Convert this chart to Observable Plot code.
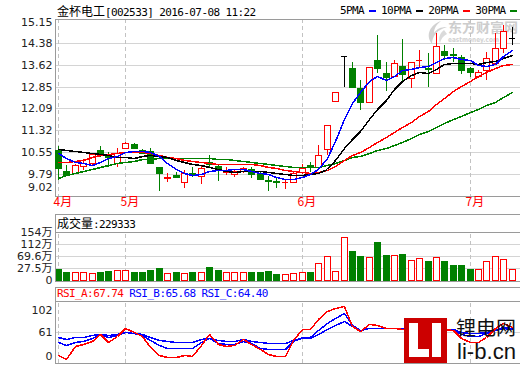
<!DOCTYPE html>
<html lang="zh">
<head>
<meta charset="utf-8">
<title>金杯电工 002533</title>
<script src="https://cdn.jsdelivr.net/npm/d3@7"></script>
<script src="https://cdn.jsdelivr.net/npm/@observablehq/plot@0.6"></script>
<style>
  html, body { margin: 0; padding: 0; background: #fff; }
  #chart { position: relative; width: 520px; height: 365px; overflow: hidden; background: #fff; }
  #chart > * { position: absolute; }
  .mono { font-family: "DejaVu Sans Mono", monospace; font-size: 11px; letter-spacing: -0.6px; line-height: 12px; white-space: nowrap; color: #000; }
  .cjk { font-family: "Noto Sans CJK SC", sans-serif; font-size: 12px; letter-spacing: 0; }
  .dash { display: inline-block; width: 7px; height: 2px; vertical-align: middle; margin: 0 5px 0 5px; }
</style>
</head>
<body>
<div id="chart"></div>
<script>
// 金杯电工 [002533] daily K-line with moving averages, volume and RSI

// Month starts (candle index) and their labels
const monthIndex = [0, 8, 29, 49];
const monthLabels = ["4月", "5月", "6月", "7月"];

// Daily prices
const open  = [10.63, 9.90, 9.82, 10.07, 10.17, 10.63, 10.48, 10.17, 10.69, 10.84,
               10.63, 10.61, 10.03, 9.66, 9.76, 9.52, 9.84, 9.72, 10.20, 10.07,
               9.86, 9.79, 9.91, 9.96, 9.84, 9.58, 9.54, 9.50, 9.52, 9.85,
               10.09, 10.05, 10.66, 12.35, 13.93, 13.49, 12.81, 12.32, 13.78, 13.32,
               13.22, 13.57, 13.14, 13.77, 13.50, 13.32, 14.10, 13.98, 13.90, 13.51,
               13.22, 13.43, 13.67, 14.19, 14.57];
const high  = [10.77, 10.11, 10.13, 10.30, 10.53, 10.77, 10.57, 10.69, 10.90, 10.88,
               10.65, 10.69, 10.03, 9.82, 9.86, 9.93, 10.03, 10.07, 10.46, 10.14,
               10.05, 9.96, 10.05, 10.03, 9.88, 9.72, 9.68, 9.58, 9.86, 10.14,
               10.22, 10.80, 11.51, 12.66, 13.93, 13.72, 13.08, 13.55, 14.66, 13.70,
               13.78, 14.51, 13.72, 14.13, 14.02, 14.72, 14.31, 14.21, 13.96, 13.55,
               13.43, 14.05, 14.72, 15.01, 14.95];
const low   = [9.58, 9.72, 9.78, 9.93, 10.10, 10.40, 10.05, 10.05, 10.66, 10.66,
               10.50, 10.13, 9.21, 9.52, 9.66, 9.31, 9.67, 9.43, 10.00, 9.56,
               9.76, 9.68, 9.82, 9.64, 9.60, 9.21, 9.29, 9.26, 9.48, 9.79,
               9.87, 9.97, 10.45, 12.35, 12.85, 12.81, 12.02, 12.30, 13.32, 12.71,
               13.20, 13.02, 12.79, 13.49, 12.85, 13.30, 13.78, 13.72, 13.28, 13.20,
               13.16, 13.08, 13.61, 14.02, 14.31];
const close = [10.01, 9.77, 10.10, 10.17, 10.49, 10.54, 10.38, 10.52, 10.87, 10.69,
               10.52, 10.17, 9.82, 9.68, 9.68, 9.82, 9.76, 9.99, 10.15, 9.93,
               9.88, 9.91, 10.01, 9.79, 9.62, 9.55, 9.52, 9.52, 9.82, 9.99,
               10.03, 10.46, 11.51, 12.66, 13.93, 12.83, 12.32, 13.53, 13.49, 13.18,
               13.67, 13.29, 13.70, 13.80, 13.47, 14.28, 13.96, 13.95, 13.43, 13.35,
               13.35, 13.84, 14.19, 14.80, 14.57];

// Volume, in 万 (10,000 shares)
const volume = [25.6, 15.1, 12.7, 12.7, 10.6, 15.1, 18.6, 19.7, 22.1, 15.1,
                15.1, 22.1, 29.1, 10.6, 12.7, 10.6, 12.7, 15.1, 32.6, 19.7,
                12.7, 12.7, 15.1, 12.7, 12.7, 16.2, 8.1, 8.1, 11.6, 15.1,
                15.1, 46.6, 71.1, 18.6, 137.6, 88.6, 71.1, 67.6, 120.1, 74.6,
                73.6, 78.1, 56.1, 63.1, 53.6, 66.6, 53.6, 39.6, 39.6, 25.6,
                25.6, 52.6, 70.1, 59.6, 22.9333];

// Moving averages of the close
const ma5  = [10.53, 10.34, 10.21, 10.16, 10.11, 10.21, 10.34, 10.42, 10.56, 10.60,
              10.60, 10.55, 10.41, 10.18, 9.97, 9.83, 9.75, 9.79, 9.88, 9.93,
              9.94, 9.97, 9.98, 9.90, 9.84, 9.78, 9.70, 9.60, 9.61, 9.68,
              9.78, 9.96, 10.36, 10.93, 11.72, 12.28, 12.65, 13.05, 13.22, 13.07,
              13.24, 13.43, 13.47, 13.53, 13.59, 13.71, 13.84, 13.89, 13.82, 13.79,
              13.61, 13.58, 13.63, 13.91, 14.15];
const ma10 = [10.68, 10.64, 10.60, 10.56, 10.52, 10.48, 10.44, 10.40, 10.37, 10.35,
              10.41, 10.45, 10.42, 10.37, 10.29, 10.22, 10.15, 10.10, 10.03, 9.95,
              9.89, 9.86, 9.88, 9.89, 9.89, 9.86, 9.84, 9.79, 9.76, 9.76,
              9.78, 9.83, 9.98, 10.27, 10.70, 11.03, 11.31, 11.71, 12.08, 12.39,
              12.76, 13.04, 13.26, 13.37, 13.33, 13.47, 13.64, 13.68, 13.67, 13.69,
              13.66, 13.71, 13.76, 13.86, 13.97];
const ma20 = [10.22, 10.22, 10.23, 10.28, 10.38, 10.45, 10.48, 10.53, 10.56, 10.57,
              10.57, 10.54, 10.47, 10.39, 10.34, 10.29, 10.25, 10.22, 10.19, 10.15,
              10.15, 10.15, 10.15, 10.13, 10.09, 10.04, 9.99, 9.94, 9.89, 9.86,
              9.83, 9.85, 9.93, 10.08, 10.29, 10.44, 10.57, 10.75, 10.92, 11.08,
              11.27, 11.44, 11.62, 11.82, 12.01, 12.25, 12.47, 12.69, 12.87, 13.04,
              13.21, 13.38, 13.51, 13.62, 13.65];
const ma30 = [9.66, 9.74, 9.82, 9.90, 9.97, 10.03, 10.10, 10.16, 10.21, 10.26,
              10.30, 10.33, 10.34, 10.35, 10.36, 10.36, 10.36, 10.36, 10.35, 10.33,
              10.30, 10.27, 10.24, 10.20, 10.17, 10.14, 10.10, 10.07, 10.04, 10.02,
              10.02, 10.05, 10.09, 10.18, 10.29, 10.37, 10.43, 10.53, 10.62, 10.70,
              10.81, 10.91, 11.04, 11.18, 11.30, 11.45, 11.59, 11.73, 11.83, 11.95,
              12.06, 12.20, 12.33, 12.50, 12.67];

// RSI (6, 12, 24)
const rsiA = [30.9, 25.2, 42.7, 45.3, 49.7, 58.0, 48.3, 55.8, 65.9, 60.6,
              55.8, 41.8, 30.5, 27.9, 27.9, 30.5, 29.0, 44.0, 58.0, 45.0,
              42.7, 44.0, 51.4, 45.3, 38.0, 32.2, 29.6, 29.6, 50.5, 64.6,
              64.6, 77.7, 89.0, 92.1, 95.1, 68.9, 62.8, 71.1, 70.2, 65.9,
              65.9, 64.6, 63.7, 64.6, 64.6, 68.0, 64.6, 63.7, 52.8, 48.3,
              48.3, 54.1, 66.7, 73.3, 67.74];
const rsiB = [48.3, 44.0, 48.3, 49.7, 52.8, 58.0, 54.1, 57.1, 61.4, 59.3,
              57.1, 50.5, 44.0, 40.5, 39.6, 39.6, 40.5, 48.3, 52.8, 47.0,
              45.3, 45.3, 49.2, 46.2, 40.0, 38.3, 38.3, 38.3, 49.7, 54.1,
              54.1, 63.7, 73.3, 79.0, 85.5, 70.2, 63.7, 66.7, 66.7, 65.9,
              66.7, 65.9, 65.0, 65.5, 65.0, 66.7, 65.0, 63.7, 58.4, 55.8,
              55.8, 59.3, 63.7, 67.1, 65.68];
const rsiC = [54.1, 51.4, 54.1, 54.9, 56.7, 58.4, 57.1, 58.4, 60.6, 59.3,
              58.0, 54.1, 50.5, 48.8, 48.3, 48.3, 48.3, 51.4, 53.2, 50.5,
              49.7, 49.7, 51.4, 49.7, 47.5, 47.0, 47.0, 47.0, 50.5, 53.2,
              53.6, 58.4, 64.6, 70.2, 75.9, 68.9, 63.7, 65.9, 66.3, 65.9,
              66.7, 65.9, 65.5, 65.5, 65.5, 66.3, 65.5, 64.6, 61.4, 59.3,
              59.3, 60.6, 63.7, 65.9, 64.40];

// Axis ticks and their labels
const priceTicks = [9.02, 9.79, 10.55, 11.32, 12.09, 12.85, 13.62, 14.38, 15.15];
const volTicks = [-14.6, 27.5, 69.6, 112, 154];
const volTickLabels = ["0", "27.5万", "69.6万", "112万", "154万"];
const rsiTicks = [20, 61, 102];
const rsiTickLabels = ["0", "61", "102"];

// Legend entries for the moving averages
const legendItems = [["5PMA", "#0000ff"], ["10PMA", "#000000"], ["20PMA", "#ff0000"], ["30PMA", "#008000"]];

const UP = "#ff0000", DOWN = "#008000", FLAT = "#000000";
const GRID = "#d4d4d4", BORDER = "#9a9a9a", DASH = "#c2c2c2";
const HALF = 0.35; // half body width, in candle steps

const bars = close.map((c, i) => ({i, o: open[i], h: high[i], l: low[i], c, v: volume[i]}));
const tone = d => d.c > d.o ? UP : d.c < d.o ? DOWN : FLAT;
const volTone = d => d.c >= d.o ? UP : DOWN;
const last = close.length - 1;

const xScale = {domain: [0, last], range: [58, 58 + 8.4 * last], round: true, axis: null};
const svgStyle = {
  fontFamily: "'DejaVu Sans', 'Noto Sans CJK SC', sans-serif",
  fontSize: "11px", color: "#222", background: "transparent", overflow: "visible"
};
const crisp = {shapeRendering: "crispEdges"};

const chart = document.getElementById("chart");
function place(node, left, top) {
  node.style.left = left + "px";
  node.style.top = top + "px";
  chart.appendChild(node);
  return node;
}
function html(s) {
  const d = document.createElement("div");
  d.innerHTML = s;
  return d.firstElementChild;
}

// eastmoney watermark behind the candles
place(html(`<svg xmlns="http://www.w3.org/2000/svg" width="520" height="60">
  <path d="M441 21 C430 25 425 35 432 44 C432 36 437 30 447 27 C440 27 437 29 434 33 C434 28 437 24 441 21 Z" fill="#d2d2d2"/>
  <path d="M444 30 C440 33 438 38 440 43 C441 39 443 36 447 34 Z" fill="#dadada"/>
  <text x="448" y="32" font-family="Noto Sans CJK SC" font-weight="bold" font-size="13" fill="#cdcdcd" textLength="70" lengthAdjust="spacingAndGlyphs">东方财富网</text>
  <text x="448" y="42" font-family="DejaVu Sans" font-weight="bold" font-size="7" fill="#d2d2d2" textLength="51" lengthAdjust="spacingAndGlyphs">eastmoney.com</text>
</svg>`), 0, 0);

// Price panel
const main = Plot.plot({
  width: 520, height: 214,
  marginTop: 19, marginBottom: 18, marginLeft: 55, marginRight: 0,
  style: svgStyle,
  x: xScale,
  y: {domain: [priceTicks[0], priceTicks[priceTicks.length - 1]], range: [196, 21], round: true, axis: null},
  marks: [
    Plot.gridY(priceTicks.slice(1, -1), {stroke: GRID, strokeOpacity: 1, ...crisp}),
    Plot.ruleX(monthIndex, {stroke: DASH, strokeDasharray: "4,3", ...crisp}),
    Plot.frame({stroke: BORDER, ...crisp}),
    Plot.ruleX(bars, {x: "i", y1: "l", y2: "h", stroke: tone, ...crisp}),
    Plot.rect(bars, {x1: d => d.i - HALF, x2: d => d.i + HALF, y1: "o", y2: "c",
      fill: d => tone(d) === DOWN ? DOWN : "#fff", stroke: tone, ...crisp}),
    Plot.ruleY(bars, {y: "o", x1: d => d.i - HALF, x2: d => d.i + HALF, stroke: tone, ...crisp}),
    Plot.ruleY(bars, {y: "c", x1: d => d.i - HALF, x2: d => d.i + HALF, stroke: tone, ...crisp}),
    Plot.lineY(ma30, {stroke: "#008000", ...crisp}),
    Plot.lineY(ma20, {stroke: "#ff0000", ...crisp}),
    Plot.lineY(ma10, {stroke: "#000000", ...crisp}),
    Plot.lineY(ma5, {stroke: "#0000ff", ...crisp}),
    Plot.text(priceTicks.slice(1, -1), {y: d => d, text: d => d.toFixed(2), frameAnchor: "left", textAnchor: "end", dx: -3}),
    Plot.text(priceTicks.slice(-1), {y: d => d, text: d => d.toFixed(2), frameAnchor: "left", textAnchor: "end", dx: -3, dy: 1}),
    Plot.text(priceTicks.slice(0, 1), {y: d => d, text: d => d.toFixed(2), frameAnchor: "left", textAnchor: "end", dx: -3, dy: -9}),
    Plot.text(monthIndex, {x: d => d, text: (d, i) => monthLabels[i], frameAnchor: "bottom",
      textAnchor: "start", dx: -5, dy: 9.5, fill: "#ff0000", fontFamily: "Noto Sans CJK SC", fontSize: 12})
  ]
});
place(main, 0, 0);

// Volume panel
const volLabel = new Map(volTicks.map((t, i) => [t, volTickLabels[i]]));
const volFloor = volTicks[0], volTop = volTicks[volTicks.length - 1];
const vol = Plot.plot({
  width: 520, height: 75,
  marginTop: 4, marginBottom: 4, marginLeft: 55, marginRight: 0,
  style: svgStyle,
  x: xScale,
  y: {domain: [volFloor, volTop], range: [70, 22], round: true, axis: null},
  marks: [
    Plot.gridY(volTicks.slice(1, -1), {stroke: GRID, strokeOpacity: 1, ...crisp}),
    Plot.ruleY([volTop], {stroke: BORDER, ...crisp}),
    Plot.ruleX(monthIndex, {y1: volFloor, y2: volTop, stroke: DASH, strokeDasharray: "4,3", ...crisp}),
    Plot.rect(bars, {x1: d => d.i - HALF, x2: d => d.i + HALF, y1: volFloor, y2: "v",
      fill: d => volTone(d) === DOWN ? DOWN : "#fff", stroke: volTone, ...crisp}),
    Plot.frame({stroke: BORDER, ...crisp}),
    Plot.text(volTicks, {y: d => d, text: d => volLabel.get(d), frameAnchor: "left", textAnchor: "end", dx: -3})
  ]
});
place(vol, 0, 210);

// RSI panel
const rsi = Plot.plot({
  width: 520, height: 82,
  marginTop: 4, marginBottom: 2, marginLeft: 55, marginRight: 0,
  style: svgStyle,
  x: xScale,
  y: {domain: [rsiTicks[0], rsiTicks[2]], range: [80, 18], round: true, axis: null},
  marks: [
    Plot.gridY([rsiTicks[1]], {stroke: GRID, strokeOpacity: 1, ...crisp}),
    Plot.ruleY([rsiTicks[2]], {stroke: BORDER, ...crisp}),
    Plot.ruleX(monthIndex, {y1: rsiTicks[0], y2: rsiTicks[2], stroke: DASH, strokeDasharray: "4,3", ...crisp}),
    Plot.lineY(rsiC, {stroke: "#0000ff", ...crisp}),
    Plot.lineY(rsiB, {stroke: "#0000ff", ...crisp}),
    Plot.lineY(rsiA, {stroke: "#ff0000", ...crisp}),
    Plot.frame({stroke: BORDER, ...crisp}),
    Plot.text([rsiTicks[1]], {y: d => d, text: () => rsiTickLabels[1], frameAnchor: "left", textAnchor: "end", dx: -3}),
    Plot.text([rsiTicks[2]], {y: d => d, text: () => rsiTickLabels[2], frameAnchor: "left", textAnchor: "end", dx: -3, dy: 9}),
    Plot.text([rsiTicks[0]], {y: d => d, text: () => rsiTickLabels[0], frameAnchor: "left", textAnchor: "end", dx: -3, dy: -7})
  ]
});
place(rsi, 0, 283);

// Title, legend and panel headers
place(html(`<div class="mono"><span class="cjk">金杯电工</span>[002533] 2016-07-08 11:22</div>`), 57, 5);
place(html(`<div class="mono">${legendItems.map(([k, c]) =>
  `${k}<span class="dash" style="background:${c}"></span>`).join("")}</div>`), 340, 5);
place(html(`<div class="mono"><span class="cjk">成交量</span>:${Math.round(volume[last] * 10000)}</div>`), 57, 217);
place(html(`<div class="mono"><span style="color:#ff0000">RSI_A:${rsiA[last].toFixed(2)}</span> <span style="color:#0000ff">RSI_B:${rsiB[last].toFixed(2)}</span> <span style="color:#0000ff">RSI_C:${rsiC[last].toFixed(2)}</span></div>`), 57, 288);

// li-b.cn badge in the lower right corner
place(html(`<svg xmlns="http://www.w3.org/2000/svg" width="520" height="365">
  <rect x="404" y="318" width="43" height="45" fill="#cc0000"/>
  <rect x="409" y="323" width="9" height="34" fill="#fff"/>
  <rect x="409" y="349" width="20" height="8" fill="#fff"/>
  <rect x="432" y="323" width="9" height="34" fill="#fff"/>
  <text x="456" y="335" font-family="Noto Sans CJK SC" font-size="19" fill="#111" textLength="60" lengthAdjust="spacingAndGlyphs">锂电网</text>
  <text x="457" y="359" font-family="Liberation Sans" font-size="22" fill="#111" textLength="59" lengthAdjust="spacingAndGlyphs">li-b.cn</text>
</svg>`), 0, 0);
</script>
</body>
</html>
